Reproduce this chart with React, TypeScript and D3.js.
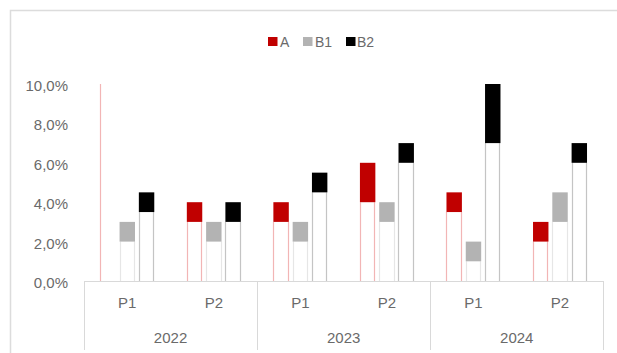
import React from "react";
import * as d3 from "d3";

const categories = ["P1", "P2", "P1", "P2", "P1", "P2"];
const years = ["2022", "2023", "2024"];
const seriesNames = ["A", "B1", "B2"];
// floating bars: invisible base + visible box
const aBase = [10, 3, 3, 4, 3.5, 2];
const aBox = [0, 1, 1, 2, 1, 1];
const b1Base = [2, 2, 2, 3, 1, 3];
const b1Box = [1, 1, 1, 1, 1, 1.5];
const b2Base = [3.5, 3, 4.5, 6, 7, 6];
const b2Box = [1, 1, 1, 1, 3, 1];
const yTicks = [0, 2, 4, 6, 8, 10];

const W = 617;
const H = 353;
const left = 84;
const right = 603.3;
const y0 = 281;
const yTop = 84;

const fillColors = ["#C00000", "#B3B3B3", "#000000"];
const baseStroke = ["#F2B5B5", "#E6E6E6", "#C4C4C4"];
const textColor = "#6A6A6A";
const font = "'Liberation Sans', Arial, sans-serif";

const locale = d3.formatLocale({ decimal: ",", thousands: ".", grouping: [3], currency: ["", ""] });
const fmt = locale.format(".1f");

export default function App() {
  const idx = categories.map((_, i) => i);
  const x0 = d3.scaleBand<number>().domain(idx).range([left, right]);
  const bw = x0.bandwidth();
  const x1 = d3
    .scaleBand<string>()
    .domain(seriesNames)
    .range([bw / 2 - 27, bw / 2 + 27])
    .paddingInner(0.2);
  const y = d3.scaleLinear().domain([0, 10]).range([y0, yTop]);

  const bases = [aBase, b1Base, b2Base];
  const boxes = [aBox, b1Box, b2Box];

  const yearScale = d3.scaleBand<string>().domain(years).range([left, right]);

  const legendItems = [
    { name: "A", sx: 268, tx: 280 },
    { name: "B1", sx: 303, tx: 315 },
    { name: "B2", sx: 346, tx: 357 },
  ];

  return (
    <svg
      width={W}
      height={H}
      style={{ position: "absolute", left: 0, top: 0, display: "block", background: "#fff" }}
      fontFamily={font}
    >
      <rect x={0} y={0} width={W} height={H} fill="#fff" />
      <rect x={10.5} y={10.5} width={W + 20} height={H + 20} fill="#fff" stroke="#DCDCDC" strokeWidth={1.5} />

      {/* legend */}
      {legendItems.map((l, i) => (
        <g key={l.name}>
          <rect x={l.sx} y={37} width={9.5} height={9} fill={fillColors[i]} />
          <text x={l.tx} y={41.5} dominantBaseline="central" fontSize={14} fill={textColor}>
            {l.name}
          </text>
        </g>
      ))}

      {/* y tick labels */}
      {yTicks.map((t) => (
        <text
          key={t}
          x={68}
          y={y(t) + 1.5}
          textAnchor="end"
          dominantBaseline="central"
          fontSize={15}
          fill={textColor}
        >
          {fmt(t) + "%"}
        </text>
      ))}

      {/* bars */}
      {seriesNames.map((s, si) =>
        idx.map((i) => {
          const bx = (x0(i) as number) + (x1(s) as number);
          const w = x1.bandwidth();
          const base = bases[si][i];
          const box = boxes[si][i];
          const yb = y(base);
          const lx = Math.round(bx) + 0.5;
          const rx = Math.round(bx + w) - 0.5;
          const d = box > 0 ? `M${lx},${y0}V${yb}M${rx},${y0}V${yb}` : `M${lx},${y0}V${yb}`;
          return (
            <g key={s + i}>
              <path d={d} fill="none" stroke={baseStroke[si]} strokeWidth={1.2} />
              {box > 0 && (
                <rect
                  x={bx}
                  y={y(base + box)}
                  width={w}
                  height={y(base) - y(base + box)}
                  fill={fillColors[si]}
                />
              )}
            </g>
          );
        })
      )}

      {/* x axis */}
      <line x1={left} x2={right} y1={y0 + 0.5} y2={y0 + 0.5} stroke="#D9D9D9" strokeWidth={1} />
      {[left, ...years.map((yr) => (yearScale(yr) as number) + yearScale.bandwidth())].map((sx, k) => (
        <line
          key={k}
          x1={Math.round(sx) + 0.5}
          x2={Math.round(sx) + 0.5}
          y1={y0}
          y2={350}
          stroke="#D9D9D9"
          strokeWidth={1}
        />
      ))}
      {idx.map((i) => (
        <text
          key={"c" + i}
          x={(x0(i) as number) + bw / 2}
          y={302}
          textAnchor="middle"
          dominantBaseline="central"
          fontSize={15}
          fill={textColor}
        >
          {categories[i]}
        </text>
      ))}
      {years.map((yr) => (
        <text
          key={yr}
          x={(yearScale(yr) as number) + yearScale.bandwidth() / 2}
          y={337}
          textAnchor="middle"
          dominantBaseline="central"
          fontSize={15}
          fill={textColor}
        >
          {yr}
        </text>
      ))}
    </svg>
  );
}
